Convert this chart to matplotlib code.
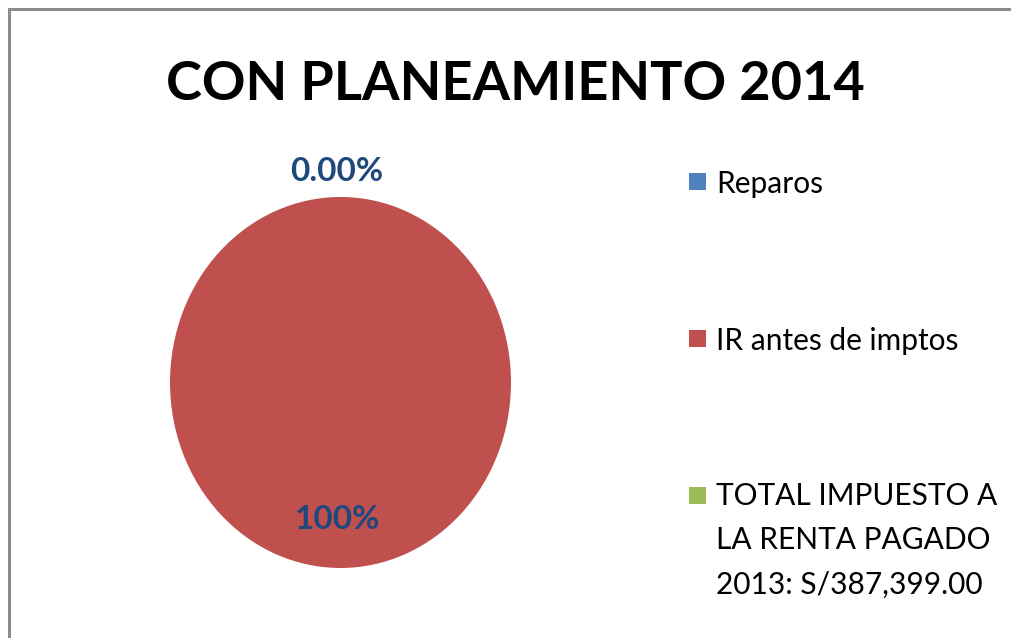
import numpy as np
import matplotlib.pyplot as plt
from matplotlib.patches import Rectangle

# chart content
title = "CON PLANEAMIENTO 2014"
categories = ["Reparos", "IR antes de imptos",
              "TOTAL IMPUESTO A\nLA RENTA PAGADO\n2013: S/387,399.00"]
values = [0.0, 100.0, 0.0]
pct_labels = ["0.00%", "100%", None]
colors = ["#4F81BD", "#C0504D", "#9BBB59"]

W, H = 1012, 638
plt.rcParams['font.family'] = ['Lato', 'DejaVu Sans']

fig = plt.figure(figsize=(W / 100, H / 100), dpi=100)

# outer chart frame (cut off at right/bottom like the screenshot)
fig.add_artist(Rectangle((9.5 / W, -0.2), 1.5, 1.2 - 8.5 / H,
                         transform=fig.transFigure, fill=False,
                         edgecolor="#8c8c8c", linewidth=2.2))

fig.text(515 / W, 1 - 100 / H, title, ha='center', va='baseline',
         fontsize=39, fontweight='bold', color='black')

# pie drawn in a non-square box -> slightly tall ellipse, like the original
ax = fig.add_axes([170 / W, 1 - 568 / H, 341 / W, 371 / H])
wedges, _ = ax.pie(values, colors=colors, startangle=90, counterclock=False)
ax.set_aspect('auto')
ax.set_xlim(-1, 1)
ax.set_ylim(-1, 1)
ax.axis('off')

label_dist = [1.14, 0.74, 0.0]
for w, lab, d in zip(wedges, pct_labels, label_dist):
    if lab is None:
        continue
    th = np.deg2rad((w.theta1 + w.theta2) / 2)
    ax.text(d * np.cos(th) - 0.02, d * np.sin(th), lab, ha='center', va='center',
            fontsize=24, fontweight='bold', color='#1F497D', clip_on=False)

# legend, laid out by hand like Excel does (y = baseline of first line, px)
leg_base = [193, 350, 507]
line_h = 43.5
for cat, col, y in zip(categories, colors, leg_base):
    fig.add_artist(Rectangle((689 / W, 1 - (y - 3) / H), 17 / W, 17 / H,
                             transform=fig.transFigure, facecolor=col,
                             edgecolor='none'))
    # multi-line text: matplotlib puts the *last* baseline at y
    ylast = y + cat.count('\n') * line_h
    fig.text(716 / W, 1 - ylast / H, cat, ha='left', va='baseline',
             fontsize=21.5, color='black', linespacing=1.72)

fig.savefig("out.png", dpi=100)
